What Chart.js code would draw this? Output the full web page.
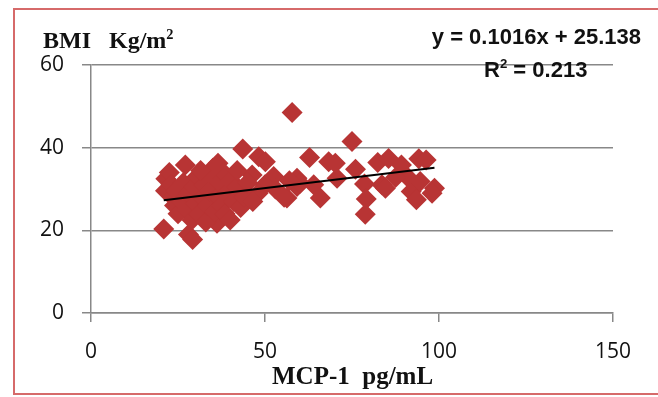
<!DOCTYPE html>
<html>
<head>
<meta charset="utf-8">
<script src="https://cdn.jsdelivr.net/npm/chart.js@4"></script>
<style>
  body { margin: 0; background: #fff; }
  #wrap { position: relative; width: 658px; height: 397px; overflow: hidden; }
  #frame { position: absolute; left: 13px; top: 8px; width: 700px; height: 383px; border: 2px solid #d66a6a; }
  canvas { position: absolute; left: 0; top: 0; }
  .lbl { position: absolute; white-space: nowrap; color: #111; line-height: 1; }
  .serif { font-family: "Liberation Serif", "DejaVu Serif", serif; font-weight: bold; }
  .sans { font-family: "Liberation Sans", Arial, sans-serif; font-weight: bold; }
  sup { font-size: 0.6em; vertical-align: 0.65em; line-height: 0; }
</style>
</head>
<body>
<div id="wrap">
  <div id="frame"></div>
  <canvas id="scatterChart" width="658" height="397"></canvas>
  <div class="lbl serif" id="yTitle" style="left:43px; top:28px; font-size:24px;">BMI&nbsp;&nbsp;&nbsp;Kg/m<sup>2</sup></div>
  <div class="lbl serif" id="xTitle" style="left:272px; top:363px; font-size:25px;">MCP-1&nbsp;&nbsp;pg/mL</div>
  <div class="lbl sans" id="eqText" style="right:17px; top:26px; font-size:22px;">y = 0.1016x + 25.138</div>
  <div class="lbl sans" id="r2Text" style="left:484px; top:59px; font-size:22px;">R<sup>2</sup> = 0.213</div>
</div>
<script>
// MCP-1 (pg/mL) vs BMI (Kg/m2)
const mcp1 = [
  20.9, 28.0, 29.2, 21.5, 22.5, 27.1, 21.4, 36.5, 43.6, 48.2,
  50.1, 57.8, 56.3, 52.5, 59.2, 36.2, 62.8, 68.3, 75.0, 55.5,
  65.9, 59.2, 64.0, 70.7, 46.3, 42.9, 76.0, 70.2, 82.4, 85.5,
  89.2, 94.2, 96.3, 78.6, 83.6, 84.6, 92.0, 93.5, 98.7, 98.0,
  94.6, 79.1, 78.8, 90.8, 87.5, 60.1, 50.0, 53.0, 48.0, 57.0,
  23.0, 23.5, 24.0, 24.5, 25.0, 26.0, 26.5, 27.5, 28.0, 29.0,
  29.5, 30.0, 30.5, 31.0, 32.0, 32.5, 33.0, 33.5, 34.0, 34.5,
  35.5, 36.5, 37.0, 37.5, 38.0, 38.5, 39.0, 40.0, 40.0, 41.0,
  42.0, 42.0, 43.0, 44.0, 45.0, 46.5, 35.0, 31.5
];
const bmi = [
  20.3, 19.0, 17.8, 32.5, 34.0, 35.8, 29.6, 36.2, 39.7, 37.8,
  36.6, 48.5, 27.8, 33.0, 30.6, 21.7, 37.6, 36.6, 41.5, 28.0,
  27.8, 32.6, 31.0, 32.6, 33.4, 29.4, 34.8, 36.2, 36.4, 37.4,
  35.8, 37.3, 37.0, 31.2, 31.0, 30.2, 29.4, 27.4, 30.2, 29.0,
  31.8, 27.6, 23.9, 33.0, 32.8, 31.4, 31.0, 30.0, 29.0, 32.0,
  31.0, 28.0, 26.0, 29.5, 24.0, 27.0, 31.5, 25.0, 29.0, 22.5,
  30.5, 26.5, 33.0, 24.0, 28.0, 31.0, 22.0, 26.0, 29.5, 33.5,
  24.5, 28.0, 31.5, 26.0, 34.0, 24.0, 29.0, 32.0, 22.5, 27.0,
  30.5, 34.5, 25.5, 28.0, 31.5, 27.0, 35.0, 34.5
];

// linear trend from the chart's equation
const slope = 0.1016;
const intercept = 25.138;

const xTicks = [0, 50, 100, 150];
const yTicks = [0, 20, 40, 60];

const points = mcp1.map((x, i) => ({ x: x, y: bmi[i] }));
const xMin = Math.min(...mcp1);
const xMax = Math.max(...mcp1);
const trend = [
  { x: xMin, y: slope * xMin + intercept },
  { x: xMax, y: slope * xMax + intercept },
];

const tickFont = { family: '"Open Sans", "Liberation Sans", sans-serif', size: 21 };

new Chart(document.getElementById('scatterChart').getContext('2d'), {
  type: 'scatter',
  data: {
    datasets: [
      {
        type: 'line',
        label: 'Linear',
        data: trend,
        borderColor: '#000',
        borderWidth: 2,
        pointRadius: 0,
        fill: false,
        order: 0,
      },
      {
        label: 'BMI',
        data: points,
        pointStyle: 'rectRot',
        pointRadius: 10.5,
        pointHoverRadius: 10.5,
        backgroundColor: '#b83434',
        borderWidth: 0,
        order: 1,
      },
    ],
  },
  options: {
    responsive: false,
    animation: false,
    layout: { padding: { top: 65, right: 45, left: 0, bottom: 0 } },
    plugins: {
      legend: { display: false },
      tooltip: { enabled: false },
    },
    scales: {
      x: {
        type: 'linear',
        min: 0,
        max: 150,
        afterBuildTicks: (axis) => { axis.ticks = xTicks.map(v => ({ value: v })); },
        afterFit: (scale) => { scale.height = 84; },
        grid: { drawOnChartArea: false, drawTicks: true, tickLength: 9, color: '#888', lineWidth: 1.5 },
        border: { color: '#888', width: 1.5 },
        ticks: { font: tickFont, color: '#111', padding: 17, maxRotation: 0 },
      },
      y: {
        type: 'linear',
        min: 0,
        max: 60,
        afterBuildTicks: (axis) => { axis.ticks = yTicks.map(v => ({ value: v })); },
        afterFit: (scale) => { scale.width = 91; },
        grid: { drawTicks: true, tickLength: 9, color: '#888', lineWidth: 1.5 },
        border: { color: '#888', width: 1.5 },
        ticks: { font: tickFont, color: '#111', padding: 18 },
      },
    },
  },
});
</script>
</body>
</html>
